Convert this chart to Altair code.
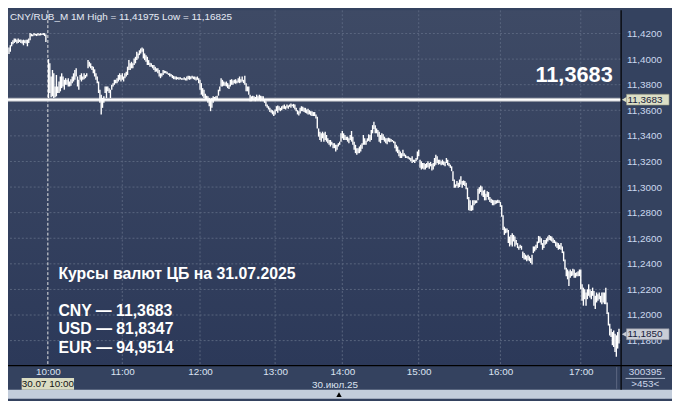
import altair as alt
import pandas as pd

# ---- 1-minute bars (high / low); None = no bar ----
highs = [
    11.4090, 11.4108, 11.4134, 11.4147, 11.4160, 11.4160, 11.4152, 11.4160, 11.4152, 11.4154,
    11.4147, 11.4152, 11.4147, 11.4152, 11.4152, 11.4160, 11.4203, 11.4198, 11.4193, 11.4203,
    11.4198, 11.4198, 11.4203, 11.4198, 11.4203, 11.4198, 11.4203, 11.4203, 11.4193, None,
    11.4000, 11.3967, 11.3864, 11.3915, 11.3889, 11.3786, 11.3876, 11.3786, 11.3825, 11.3864,
    11.3889, 11.3864, 11.3838, 11.3851, 11.3838, 11.3851, 11.3825, 11.3843, 11.3864, 11.3889,
    11.3915, 11.3928, 11.3864, 11.3838, 11.3876, 11.3889, 11.3864, 11.3889, 11.3876, 11.3889,
    11.3992, 11.3979, 11.3967, 11.3946, 11.3941, 11.3920, 11.3889, 11.3864, 11.3825, 11.3761,
    11.3722, 11.3696, 11.3709, 11.3786, 11.3786, 11.3786, 11.3773, 11.3761, 11.3799, 11.3812,
    11.3838, 11.3838, 11.3851, 11.3876, 11.3889, 11.3876, 11.3889, 11.3864, 11.3889, 11.3902,
    11.3941, 11.3992, 11.3967, 11.3979, 11.3967, 11.4005, 11.4018, 11.4057, 11.4044, 11.4069,
    11.4082, 11.4090, 11.4082, 11.4044, 11.4031, 11.4018, 11.3992, 11.3972, 11.3967, 11.3954,
    11.3954, 11.3941, 11.3928, 11.3928, 11.3915, 11.3889, 11.3889,
    11.3915, 11.3910, 11.3907, 11.3902, 11.3889, 11.3889, 11.3884, 11.3876, 11.3869, 11.3864,
    11.3864, 11.3858, 11.3858, 11.3858, 11.3851, 11.3851, 11.3858, 11.3851, 11.3864, 11.3869,
    11.3869, 11.3864, 11.3869, 11.3864, 11.3864, 11.3858, 11.3864, 11.3851, 11.3838, 11.3812,
    11.3773, 11.3761, 11.3730, 11.3714, 11.3709, 11.3696, 11.3683, 11.3696, 11.3709, 11.3704,
    11.3709, 11.3714, 11.3761, 11.3786, 11.3851, 11.3838, 11.3825, 11.3817, 11.3825, 11.3812,
    11.3799, 11.3838, 11.3843, 11.3833, 11.3838, 11.3843, 11.3833, 11.3851, 11.3864, 11.3843,
    11.3864, 11.3838, 11.3869, 11.3812, 11.3786, 11.3786, 11.3722, 11.3709, 11.3714, 11.3709,
    11.3704, 11.3722, 11.3709, 11.3722, 11.3714, 11.3709, 11.3709, 11.3683, 11.3671, 11.3645,
    11.3632, 11.3619, 11.3606, 11.3601, 11.3593, 11.3606, 11.3632, 11.3637, 11.3632, 11.3619,
    11.3632, 11.3637, 11.3645, 11.3632, 11.3645, 11.3637, 11.3645, 11.3653, 11.3645, 11.3650,
    11.3645, 11.3619, 11.3601, 11.3593, 11.3619, 11.3632, 11.3627, 11.3619, 11.3619, 11.3606,
    11.3611, 11.3601, 11.3593, 11.3593, 11.3586, 11.3586,
    11.3567, 11.3549, 11.3458, 11.3433, 11.3420, 11.3433, 11.3420, 11.3433, 11.3407, 11.3381,
    11.3368, 11.3368, 11.3355, 11.3343, 11.3343, 11.3330, 11.3330, 11.3343, 11.3355, 11.3420,
    11.3438, 11.3420, 11.3407, 11.3394, 11.3394, 11.3381, 11.3407, 11.3438, 11.3394, 11.3355,
    11.3330, 11.3304, 11.3304, 11.3317, 11.3330, 11.3343, 11.3407, 11.3381, 11.3361, 11.3381,
    11.3412, 11.3407, 11.3446, 11.3484, 11.3510, 11.3484, 11.3458, 11.3446, 11.3433, 11.3407,
    11.3420, 11.3412, 11.3394, 11.3381, 11.3381, 11.3386, 11.3381, 11.3376, 11.3368, 11.3361,
    11.3355, 11.3330, 11.3317, 11.3291, 11.3278, 11.3265, 11.3291, 11.3265, 11.3253, 11.3240,
    11.3240, 11.3232, 11.3227, 11.3240, 11.3214, 11.3214, 11.3227, 11.3278, 11.3291, 11.3214,
    11.3201, 11.3188, 11.3188, 11.3180, 11.3188, 11.3201, 11.3188, 11.3196, 11.3180, 11.3188,
    11.3227, 11.3253, 11.3240, 11.3214, 11.3214, 11.3201, 11.3214, 11.3201, 11.3196, 11.3227,
    11.3214, 11.3188, 11.3175, 11.3162, 11.3124, 11.3059, 11.3021, 11.3047, 11.3034, 11.3059,
    11.3085, 11.3047, 11.3052, 11.3047, 11.3034, 11.2995,
    11.2922, 11.2896, 11.2858, 11.2896, 11.2896, 11.2896, 11.2896, 11.2986, 11.2999, 11.3012,
    11.3004, 11.2973, 11.2979, 11.2948, 11.2968, 11.2961, 11.2922, 11.2909, 11.2901, 11.2896,
    11.2896, 11.2896, 11.2901, 11.2896, 11.2883, 11.2858, 11.2780, 11.2690, 11.2677, 11.2677,
    11.2665, 11.2613, 11.2626, 11.2639, 11.2626, 11.2613, 11.2587, 11.2562, 11.2536, 11.2549,
    11.2541, 11.2497, 11.2484, 11.2472, 11.2464, 11.2472, 11.2459, 11.2446, 11.2472, 11.2536,
    11.2536, 11.2549, 11.2575, 11.2618, 11.2613, 11.2600, 11.2562, 11.2587, 11.2587, 11.2600,
    11.2613, 11.2626, 11.2618, 11.2613, 11.2600, 11.2587, 11.2575, 11.2567, 11.2562, 11.2549,
    11.2562, 11.2536, 11.2497, 11.2433, 11.2369, 11.2356, 11.2343, 11.2356, 11.2343, 11.2361,
    11.2356, 11.2330, 11.2335, 11.2343, 11.2356, 11.2356, 11.2240, 11.2214, 11.2201, 11.2176,
    11.2201, 11.2240, 11.2201, 11.2188, 11.2214, 11.2188, 11.2150, 11.2176, 11.2163, 11.2176,
    11.2150, 11.2176, 11.2176, 11.2176, 11.2214, 11.2098, 11.2021, 11.1931, 11.1892, 11.1867,
    11.1880, 11.1854, 11.1841, 11.1867, 11.1892,
]
lows = [
    11.4039, 11.4057, 11.4100, 11.4116, 11.4126, 11.4134, 11.4121, 11.4126, 11.4134, 11.4126,
    11.4121, 11.4108, 11.4126, 11.4121, 11.4100, 11.4126, 11.4147, 11.4178, 11.4178, 11.4185,
    11.4185, 11.4180, 11.4185, 11.4185, 11.4185, 11.4188, 11.4188, 11.4180, 11.4134, None,
    11.3696, 11.3735, 11.3701, 11.3709, 11.3696, 11.3701, 11.3709, 11.3735, 11.3735, 11.3748,
    11.3773, 11.3786, 11.3761, 11.3799, 11.3799, 11.3786, 11.3786, 11.3792, 11.3812, 11.3825,
    11.3838, 11.3864, 11.3786, 11.3761, 11.3838, 11.3825, 11.3838, 11.3843, 11.3851, 11.3864,
    11.3928, 11.3941, 11.3928, 11.3915, 11.3889, 11.3864, 11.3838, 11.3812, 11.3735, 11.3658,
    11.3568, 11.3619, 11.3658, 11.3735, 11.3696, 11.3748, 11.3735, 11.3696, 11.3761, 11.3786,
    11.3799, 11.3812, 11.3812, 11.3825, 11.3838, 11.3825, 11.3838, 11.3825, 11.3851, 11.3864,
    11.3876, 11.3915, 11.3915, 11.3928, 11.3928, 11.3954, 11.3967, 11.3992, 11.4005, 11.4031,
    11.4044, 11.4057, 11.4005, 11.3992, 11.3979, 11.3954, 11.3954, 11.3941, 11.3941, 11.3928,
    11.3915, 11.3902, 11.3902, 11.3889, 11.3864, 11.3851, 11.3864,
    11.3876, 11.3889, 11.3889, 11.3884, 11.3876, 11.3864, 11.3864, 11.3851, 11.3843, 11.3843,
    11.3838, 11.3843, 11.3838, 11.3843, 11.3838, 11.3838, 11.3838, 11.3833, 11.3833, 11.3843,
    11.3838, 11.3843, 11.3851, 11.3843, 11.3838, 11.3833, 11.3838, 11.3812, 11.3761, 11.3722,
    11.3709, 11.3696, 11.3683, 11.3683, 11.3658, 11.3632, 11.3593, 11.3619, 11.3658, 11.3678,
    11.3683, 11.3683, 11.3714, 11.3748, 11.3786, 11.3786, 11.3792, 11.3792, 11.3786, 11.3773,
    11.3766, 11.3786, 11.3799, 11.3799, 11.3812, 11.3807, 11.3812, 11.3817, 11.3812, 11.3817,
    11.3825, 11.3812, 11.3799, 11.3748, 11.3748, 11.3722, 11.3671, 11.3671, 11.3678, 11.3683,
    11.3671, 11.3683, 11.3678, 11.3683, 11.3671, 11.3678, 11.3671, 11.3658, 11.3632, 11.3619,
    11.3606, 11.3586, 11.3580, 11.3568, 11.3555, 11.3568, 11.3593, 11.3580, 11.3601, 11.3593,
    11.3601, 11.3611, 11.3611, 11.3606, 11.3619, 11.3611, 11.3627, 11.3619, 11.3632, 11.3619,
    11.3606, 11.3593, 11.3568, 11.3560, 11.3575, 11.3593, 11.3593, 11.3586, 11.3580, 11.3575,
    11.3568, 11.3568, 11.3560, 11.3555, 11.3555, 11.3555,
    11.3536, 11.3458, 11.3394, 11.3368, 11.3355, 11.3381, 11.3355, 11.3368, 11.3355, 11.3343,
    11.3330, 11.3317, 11.3330, 11.3304, 11.3304, 11.3278, 11.3291, 11.3317, 11.3330, 11.3355,
    11.3381, 11.3368, 11.3368, 11.3368, 11.3355, 11.3343, 11.3368, 11.3355, 11.3330, 11.3291,
    11.3265, 11.3253, 11.3265, 11.3265, 11.3278, 11.3299, 11.3330, 11.3330, 11.3330, 11.3355,
    11.3361, 11.3355, 11.3368, 11.3420, 11.3453, 11.3420, 11.3420, 11.3394, 11.3355, 11.3343,
    11.3368, 11.3368, 11.3355, 11.3343, 11.3335, 11.3355, 11.3350, 11.3355, 11.3355, 11.3343,
    11.3304, 11.3278, 11.3265, 11.3240, 11.3227, 11.3227, 11.3240, 11.3240, 11.3227, 11.3227,
    11.3222, 11.3214, 11.3201, 11.3188, 11.3196, 11.3188, 11.3201, 11.3214, 11.3240, 11.3150,
    11.3137, 11.3144, 11.3137, 11.3137, 11.3150, 11.3155, 11.3144, 11.3162, 11.3129, 11.3137,
    11.3162, 11.3175, 11.3188, 11.3175, 11.3180, 11.3170, 11.3175, 11.3170, 11.3162, 11.3188,
    11.3170, 11.3162, 11.3150, 11.3124, 11.3047, 11.2995, 11.2995, 11.3008, 11.2995, 11.3000,
    11.3021, 11.2995, 11.3016, 11.3008, 11.2982, 11.2905,
    11.2819, 11.2814, 11.2814, 11.2819, 11.2858, 11.2871, 11.2876, 11.2896, 11.2948, 11.2961,
    11.2935, 11.2922, 11.2896, 11.2896, 11.2922, 11.2901, 11.2883, 11.2876, 11.2858, 11.2858,
    11.2865, 11.2871, 11.2876, 11.2876, 11.2845, 11.2768, 11.2665, 11.2626, 11.2639, 11.2644,
    11.2562, 11.2536, 11.2549, 11.2536, 11.2575, 11.2536, 11.2549, 11.2523, 11.2510, 11.2523,
    11.2510, 11.2446, 11.2433, 11.2433, 11.2420, 11.2428, 11.2420, 11.2407, 11.2394, 11.2484,
    11.2497, 11.2510, 11.2523, 11.2562, 11.2567, 11.2549, 11.2510, 11.2523, 11.2549, 11.2557,
    11.2575, 11.2587, 11.2582, 11.2575, 11.2562, 11.2562, 11.2536, 11.2523, 11.2510, 11.2515,
    11.2510, 11.2484, 11.2420, 11.2356, 11.2304, 11.2279, 11.2227, 11.2291, 11.2304, 11.2309,
    11.2291, 11.2291, 11.2304, 11.2304, 11.2304, 11.2201, 11.2111, 11.2073, 11.2124, 11.2073,
    11.2124, 11.2150, 11.2137, 11.2124, 11.2150, 11.2073, 11.2047, 11.2098, 11.2111, 11.2124,
    11.2098, 11.2085, 11.2098, 11.2085, 11.2085, 11.2008, 11.1918, 11.1841, 11.1828, 11.1764,
    11.1751, 11.1712, 11.1674, 11.1738, 11.1777,
]
assert len(highs) == len(lows)
bar_index = list(range(len(highs)))

price_ticks = [11.18, 11.20, 11.22, 11.24, 11.26, 11.28, 11.30, 11.32, 11.34, 11.36, 11.38, 11.40, 11.42]
hour_bars = [29.5, 86, 145, 202, 253, 311, 373, 434]
hour_labels = ["10:00", "11:00", "12:00", "13:00", "14:00", "15:00", "16:00", "17:00"]
cursor_bar = 29.5
cursor_label = "30.07 10:00"
date_label = "30.июл.25"
cb_price = 11.3683
last_price = 11.1850
day_high = 11.41975
day_low = 11.16825
volume_label = "300395"
count_label = ">453<"
cb_title = "Курсы валют ЦБ на 31.07.2025"
cb_codes = ["CNY", "USD", "EUR"]
cb_rates = [11.3683, 81.8347, 94.9514]


def ru(v, d):
    return f"{v:.{d}f}".replace(".", ",")


W, H = 620, 359
FONT = "Liberation Sans"
GRID = "#59667f"
PANEL = "#34425f"
LIGHT = "#c3cddb"

xs = alt.Scale(domain=[-0.75, 464.25], nice=False, zero=False)
ys = alt.Scale(domain=[11.1609, 11.4381], nice=False, zero=False)

xexpr = "''"
for b, l in reversed(list(zip(hour_bars, hour_labels))):
    xexpr = f"datum.value == {b} ? '{l}' : ({xexpr})"

xaxis = alt.Axis(orient="bottom", values=hour_bars, labelExpr=xexpr, grid=False, ticks=False,
                 domain=False, labelPadding=2, labelColor="#dbe3f1", labelFont=FONT,
                 labelFontSize=10, labelBaseline="top", labelAlign="center",
                 labelOverlap=False, labelFlush=False, title=None)
yaxis = alt.Axis(orient="right", values=price_ticks,
                 labelExpr="replace(format(datum.value, '.4f'), '.', ',')",
                 grid=False, ticks=False, domain=False, labelPadding=6,
                 labelColor="#cbd8ee", labelFont=FONT, labelFontSize=10,
                 labelAlign="left", labelBaseline="middle", labelOverlap=False,
                 labelFlush=False, title=None)

one = pd.DataFrame({"z": [0]})

bg_plot = alt.Chart(one).mark_rect(
    color=alt.Gradient(gradient="linear",
                       stops=[alt.GradientStop(color="#3e4a65", offset=0),
                              alt.GradientStop(color="#2c3959", offset=1)],
                       x1=0, x2=0, y1=0, y2=1)
).encode(x=alt.value(0), x2=alt.value(W), y=alt.value(0), y2=alt.value(H))

bg_strip = alt.Chart(one).mark_rect(color=LIGHT).encode(
    x=alt.value(0), x2=alt.value(672), y=alt.value(384), y2=alt.value(393))

hgrid = alt.Chart(pd.DataFrame({"p": price_ticks})).mark_rule(
    color=GRID, strokeDash=[2, 2], strokeWidth=1).encode(
    y=alt.Y("p:Q", scale=ys, axis=yaxis))

vgrid = alt.Chart(pd.DataFrame({"h": hour_bars[1:]})).mark_rule(
    color=GRID, strokeDash=[2, 2], strokeWidth=1).encode(
    x=alt.X("h:Q", scale=xs, axis=xaxis))

cursor = alt.Chart(pd.DataFrame({"h": [cursor_bar]})).mark_rule(
    color="#e6e6e6", strokeDash=[3, 2], strokeWidth=1).encode(
    x=alt.X("h:Q", scale=xs, axis=xaxis))

cbdf = pd.DataFrame({"p": [cb_price], "t": [ru(cb_price, 4)]})
cb_line_under = alt.Chart(cbdf).mark_rule(color="#a9adb6", strokeWidth=4).encode(
    y=alt.Y("p:Q", scale=ys, axis=yaxis))
cb_line = alt.Chart(cbdf).mark_rule(color="#ffffff", strokeWidth=2).encode(
    y=alt.Y("p:Q", scale=ys, axis=yaxis))

bars_df = pd.DataFrame({"bar": bar_index, "high": highs, "low": lows}).dropna()
bars = alt.Chart(bars_df).mark_rule(color="#ffffff", strokeWidth=1.4).encode(
    x=alt.X("bar:Q", scale=xs, axis=xaxis),
    y=alt.Y("low:Q", scale=ys, axis=yaxis),
    y2="high:Q")

vline = alt.Chart(one).mark_rule(color="#000000", strokeWidth=1.2).encode(
    x=alt.value(620.5), y=alt.value(0), y2=alt.value(384))
hline = alt.Chart(one).mark_rule(color="#000000", strokeWidth=1.2).encode(
    x=alt.value(0), x2=alt.value(672), y=alt.value(359.5))
sep = alt.Chart(one).mark_rule(color="#5d6882", strokeWidth=1).encode(
    x=alt.value(616), y=alt.value(361), y2=alt.value(383))
vol_rule = alt.Chart(one).mark_rule(color="#aeb8cc", strokeWidth=1).encode(
    x=alt.value(625), x2=alt.value(665), y=alt.value(372.5))


def price_box(price, fill, stroke):
    d = pd.DataFrame({"p": [price], "t": [ru(price, 4)]})
    y = alt.Y("p:Q", scale=ys, axis=yaxis)
    tri = alt.Chart(d).mark_point(shape="triangle-left", filled=True, size=40,
                                  color=fill, opacity=1).encode(x=alt.value(624), y=y)
    rect = alt.Chart(d).mark_rect(color=fill, stroke=stroke, strokeWidth=0.6,
                                  yOffset=-5.5, y2Offset=5.5).encode(
        x=alt.value(626), x2=alt.value(669), y=y, y2="p:Q")
    txt = alt.Chart(d).mark_text(align="left", baseline="middle", font=FONT, fontSize=10,
                                 color="#16203a").encode(x=alt.value(627), y=y, text="t:N")
    return [tri, rect, txt]


cur_df = pd.DataFrame({"h": [cursor_bar], "t": [cursor_label]})
cur_box = alt.Chart(cur_df).mark_rect(color="#dadcc2", xOffset=-26.5, x2Offset=26.5).encode(
    x=alt.X("h:Q", scale=xs, axis=xaxis), x2="h:Q", y=alt.value(372), y2=alt.value(384))
cur_txt = alt.Chart(cur_df).mark_text(align="center", baseline="middle", font=FONT,
                                      fontSize=10, color="#141414").encode(
    x=alt.X("h:Q", scale=xs, axis=xaxis), y=alt.value(378.5), text="t:N")


def label(txt, x, y, size=10, color="#e6ebf5", bold=False, align="left", baseline="middle"):
    return alt.Chart(one).mark_text(text=txt, align=align, baseline=baseline, font=FONT,
                                    fontSize=size, color=color,
                                    fontWeight="bold" if bold else "normal").encode(
        x=alt.value(x), y=alt.value(y))


texts = [
    label(f"CNY/RUB_M 1M High = {ru(day_high, 5)} Low = {ru(day_low, 5)}", 2, 7),
    label(ru(cb_price, 4), 612, 66, size=22, color="#ffffff", bold=True, align="right"),
    label(cb_title, 51, 272, size=16, color="#ffffff", bold=True, baseline="alphabetic"),
    label(date_label, 331, 379, color="#dbe3f1", align="center"),
    label(volume_label, 645, 366, color="#cfd8ea", align="center"),
    label(count_label, 645, 378.5, color="#cfd8ea", align="center"),
]
for k, (c, r) in enumerate(zip(cb_codes, cb_rates)):
    texts.append(label(f"{c} — {ru(r, 4)}", 51, 309 + 18.7 * k, size=16, color="#ffffff",
                       bold=True, baseline="alphabetic"))

tri_bottom = alt.Chart(one).mark_point(shape="triangle-up", filled=True, size=30,
                                       color="#000000", opacity=1).encode(
    x=alt.value(335), y=alt.value(389))

layers = ([bg_plot, bg_strip, hgrid, vgrid, cursor, cb_line_under, cb_line, bars,
           vline, hline, sep, vol_rule, cur_box, cur_txt, tri_bottom]
          + price_box(cb_price, "#dcdfc6", "#8f917c")
          + price_box(last_price, "#c9cdd6", "#8a8f9b")
          + texts)

chart = alt.layer(*layers).properties(
    width=W, height=H,
    autosize=alt.AutoSizeParams(type="none"),
    padding={"left": 0, "top": 0, "right": 52, "bottom": 34},
    background=PANEL,
).configure_view(strokeWidth=0)

chart.save("out.html", embed_options={"renderer": "svg", "actions": False})
